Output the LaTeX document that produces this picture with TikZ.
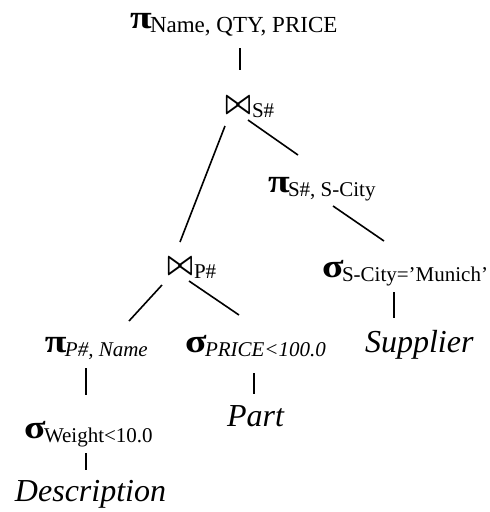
\documentclass[tikz,border=0pt]{standalone}
\usepackage{fontspec}
\usepackage{graphicx}
\setmainfont{Liberation Serif}
\newcommand\opsym{\fontsize{33}{33}\selectfont\bfseries}
\newcommand\subtxt{\fontsize{21}{21}\selectfont}
\newcommand\reltxt{\fontsize{32}{32}\selectfont\itshape}
\newcommand\opglyph[1]{\makebox[20pt][l]{\scalebox{1.2}[1]{\opsym #1}}}
\newcommand\opnode[2]{\opglyph{#1}\raisebox{-4pt}{\subtxt #2}}
\newcommand\joinnode[1]{\resizebox{26pt}{16pt}{\boldmath$\bowtie$}\kern1pt\raisebox{-4pt}{\subtxt #1}}
\tikzset{lbl/.style={anchor=base west, inner sep=0pt, outer sep=0pt},
  edge/.style={line width=1.6pt}}
\begin{document}
\begin{tikzpicture}[x=1pt,y=-1pt]
\useasboundingbox (0,0) rectangle (490,512);
\node[lbl] (top) at (130,28) {\opglyph{π}\raisebox{-4pt}{\fontsize{23}{23}\selectfont Name, QTY, PRICE}};
\node[lbl] (j1) at (225,113) {\joinnode{S\#}};
\node[lbl] (p2) at (268,192) {\opnode{π}{S\#, S-City}};
\node[lbl] (s2) at (322,277) {\opnode{σ}{S-City=’Munich’}};
\node[lbl] (sup) at (365,352) {\reltxt Supplier};
\node[lbl] (j2) at (167,274) {\joinnode{P\#}};
\node[lbl] (p3) at (45,352) {\opnode{π}{\itshape P\#, Name}};
\node[lbl] (s3) at (185,352) {\opnode{σ}{\itshape PRICE<100.0}};
\node[lbl] (part) at (227,426) {\reltxt Part};
\node[lbl] (s4) at (24,438) {\opnode{σ}{Weight<10.0}};
\node[lbl] (desc) at (15,501) {\reltxt Description};
\draw[edge] ([xshift=110pt,yshift=-20pt]top.base west) -- ([xshift=15pt,yshift=43pt]j1.base west);
\draw[edge] ([xshift=0pt,yshift=-13pt]j1.base west) -- ([xshift=13pt,yshift=32pt]j2.base west);
\draw[edge] ([xshift=23pt,yshift=-7pt]j1.base west) -- ([xshift=30pt,yshift=37pt]p2.base west);
\draw[edge] ([xshift=65pt,yshift=-14pt]p2.base west) -- ([xshift=62pt,yshift=36pt]s2.base west);
\draw[edge] ([xshift=72pt,yshift=-15pt]s2.base west) -- ([xshift=29pt,yshift=34pt]sup.base west);
\draw[edge] ([xshift=-5pt,yshift=-11pt]j2.base west) -- ([xshift=84pt,yshift=31pt]p3.base west);
\draw[edge] ([xshift=22pt,yshift=-7pt]j2.base west) -- ([xshift=54pt,yshift=37pt]s3.base west);
\draw[edge] ([xshift=41pt,yshift=-16pt]p3.base west) -- ([xshift=62pt,yshift=43pt]s4.base west);
\draw[edge] ([xshift=69pt,yshift=-21pt]s3.base west) -- ([xshift=27pt,yshift=32pt]part.base west);
\draw[edge] ([xshift=62pt,yshift=-15pt]s4.base west) -- ([xshift=71pt,yshift=31pt]desc.base west);
\end{tikzpicture}
\end{document}
